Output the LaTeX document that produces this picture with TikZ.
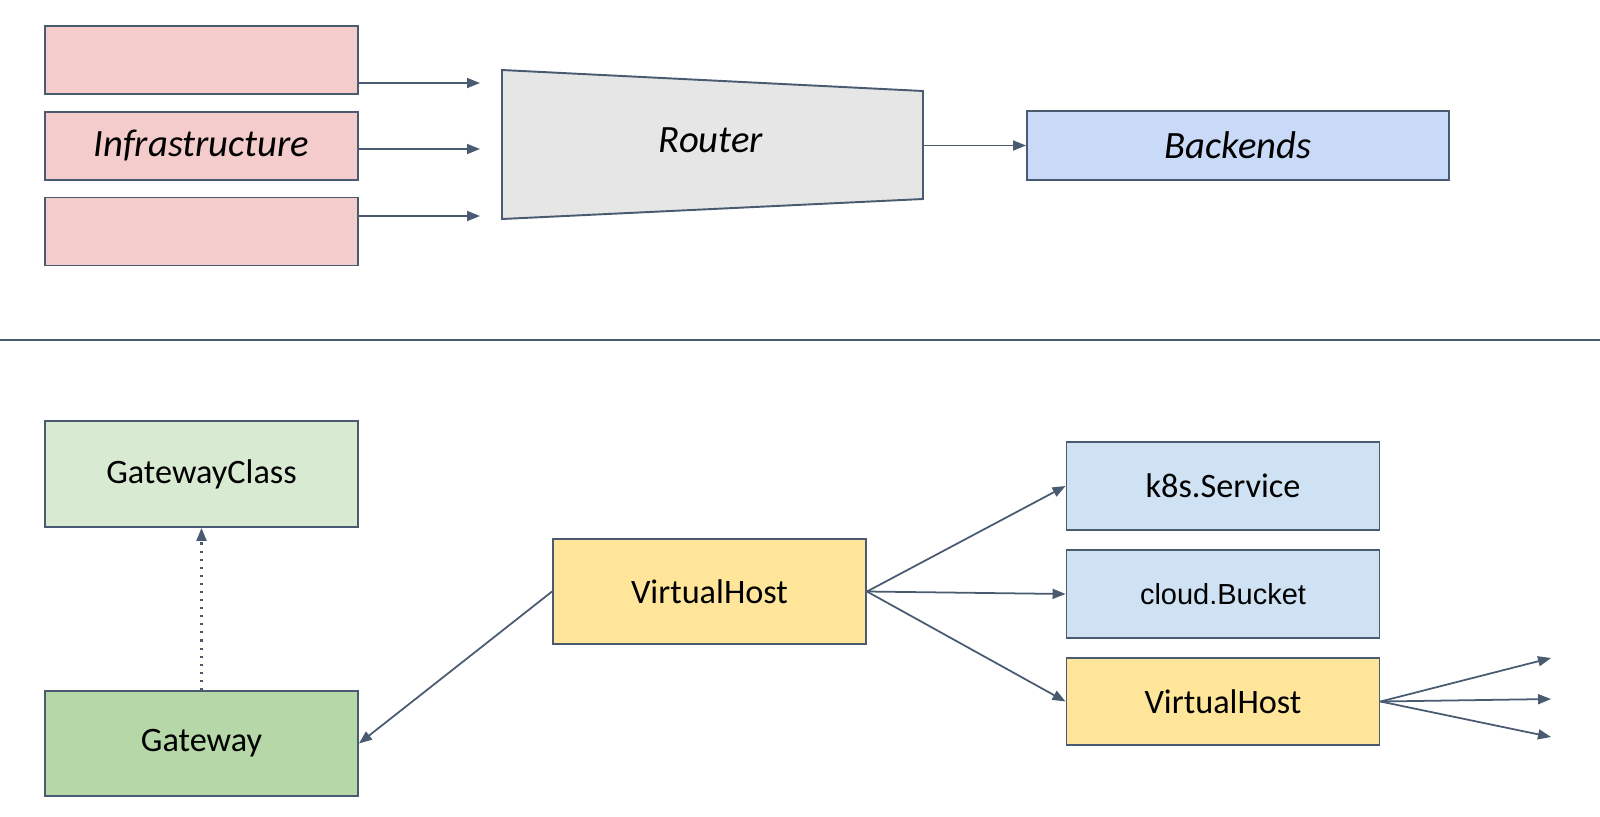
\documentclass[tikz,border=0pt]{standalone}
\usepackage{fontspec}
\setmainfont{Carlito}
\newfontfamily\arialfont{Liberation Sans}
\usetikzlibrary{arrows.meta}
\definecolor{linec}{HTML}{4A5A70}
\definecolor{infrac}{HTML}{F4CCCC}
\definecolor{routc}{HTML}{E6E6E6}
\definecolor{backc}{HTML}{C9DAF8}
\definecolor{classc}{HTML}{D9EAD3}
\definecolor{gatec}{HTML}{B6D7A8}
\definecolor{hostc}{HTML}{FFE599}
\definecolor{servc}{HTML}{CFE2F3}

\begin{document}
\begin{tikzpicture}[x=0.2mm,y=-0.2mm,
	box/.style={draw=linec,line width=1.1pt,inner sep=0pt,minimum width=62.6mm},
	big/.style={font=\fontsize{22}{26}\selectfont\itshape},
	small/.style={font=\fontsize{19.5}{23}\selectfont},
	arr/.style={draw=linec,line width=1pt,-{Triangle[length=2.6mm,width=2mm]}}]
	\useasboundingbox (0,0) rectangle (1600,816);
					% top part
					\node(i1)[box,fill=infrac,minimum height=13.6mm] at (201.5,60) {};
					\node(i2)[box,big,fill=infrac,minimum height=13.6mm] at (201.5,146) {Infrastructure};
					\node(i3)[box,fill=infrac,minimum height=13.6mm] at (201.5,231.5) {};
					\draw[fill=routc,draw=linec,line width=1.1pt] (502,70) -- (923,91) -- (923,199) -- (502,219) -- cycle;
					\node(rt)[big] at (711,140) {Router};
					\coordinate(r1) at (480,83);
					\coordinate(r2) at (480,149);
					\coordinate(r3) at (480,216);
					\coordinate(ro) at (923,145.5);
					\node(bk)[box,big,fill=backc,minimum width=84.4mm,minimum height=13.8mm] at (1238,145.5) {Backends};
					\draw[arr] (i1.east |- r1) -- (r1);
					\draw[arr] (i2.east |- r2) -- (r2);
					\draw[arr] (i3.east |- r3) -- (r3);
					\draw[arr] (ro) -- (bk);
					\draw[linec,line width=1.1pt] (0,340) -- (1600,340);
					% bottom part
					\node(gc)[box,small,fill=classc,minimum height=21.2mm] at (201.5,474) {GatewayClass};
					\node(gw)[box,small,fill=gatec,minimum height=21mm] at (201.5,743.5) {Gateway};
					\node(vh)[box,small,fill=hostc,minimum height=21mm] at (709.5,591.5) {VirtualHost};
					\node(ks)[box,small,fill=servc,minimum height=17.6mm] at (1223,486) {k8s.Service};
					\node(cb)[box,fill=servc,minimum height=17.6mm,font=\fontsize{16.5}{20}\selectfont\arialfont] at (1223,594) {cloud.Bucket};
					\node(vh2)[box,small,fill=hostc,minimum height=17.4mm] at (1223,701.5) {VirtualHost};
					\coordinate(o1) at (1551,658);
					\coordinate(o2) at (1551,699);
					\coordinate(o3) at (1551,737);
					\draw[arr,line width=1.2pt,dash pattern=on 1.2pt off 3.4pt] (gw) -- (gc);
					\draw[arr] (vh.west) -- (gw.east);
					\draw[arr] (vh.east) -- (ks.west);
					\draw[arr] (vh.east) -- (cb.west);
					\draw[arr] (vh.east) -- (vh2.west);
					\draw[arr] (vh2.east) -- (o1);
					\draw[arr] (vh2.east) -- (o2);
					\draw[arr] (vh2.east) -- (o3);
				\end{tikzpicture}
\end{document}
